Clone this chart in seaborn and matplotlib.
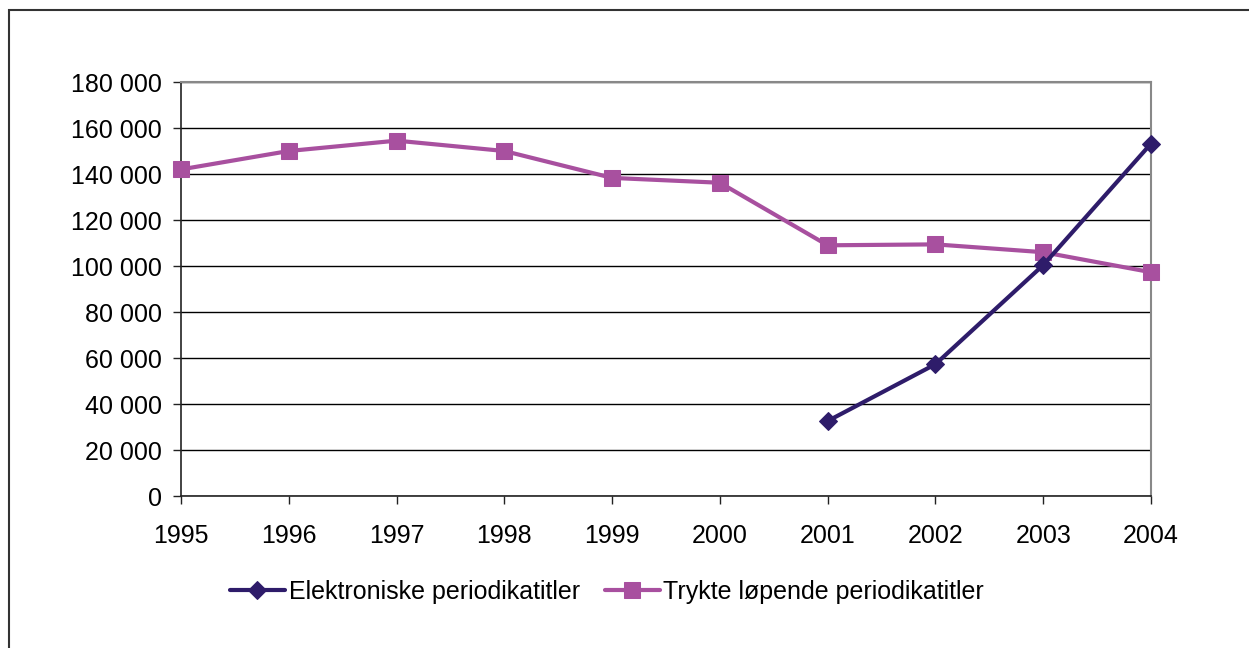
import matplotlib
matplotlib.use("Agg")
import matplotlib.pyplot as plt
import matplotlib.ticker as mticker
import pandas as pd
import seaborn as sns

# values
years = [1995, 1996, 1997, 1998, 1999, 2000, 2001, 2002, 2003, 2004]
trykte = [142000, 150000, 154500, 150000, 138300, 136200, 109000, 109400, 106000, 97300]
elektr_years = [2001, 2002, 2003, 2004]
elektr = [32600, 57300, 100400, 153200]

label_el = "Elektroniske periodikatitler"
label_tr = "Trykte løpende periodikatitler"

df_el = pd.DataFrame({"År": elektr_years, "Antall": elektr})
df_tr = pd.DataFrame({"År": years, "Antall": trykte})

sns.set_style("white")
plt.rcParams["font.family"] = ["Liberation Sans", "DejaVu Sans"]
plt.rcParams["text.color"] = "black"
plt.rcParams["xtick.color"] = "black"
plt.rcParams["ytick.color"] = "black"

fig = plt.figure(figsize=(12.49, 6.48), dpi=100)
ax = fig.add_axes([181 / 1249, 1 - 496 / 648, (1151 - 181) / 1249, (496 - 82) / 648])

# outer frame of the chart area
frame = plt.Rectangle((9 / 1249, -0.1), 1.2, 1 - 10 / 648 + 0.1, transform=fig.transFigure,
                      fill=False, edgecolor="#333333", linewidth=1.5, zorder=0)
fig.patches.append(frame)

sns.lineplot(data=df_el, x="År", y="Antall", ax=ax, color="#2E1C6A", linewidth=3,
             marker="D", markersize=9, markeredgecolor="#2E1C6A", label=label_el,
             zorder=4, clip_on=False)
sns.lineplot(data=df_tr, x="År", y="Antall", ax=ax, color="#A8509F", linewidth=3,
             marker="s", markersize=11, markeredgecolor="#A8509F", label=label_tr,
             zorder=3, clip_on=False)

ax.set_xlim(1995, 2004)
ax.set_ylim(0, 180000)
ax.set_xticks(years)
ax.set_yticks(range(0, 180001, 20000))
ax.yaxis.set_major_formatter(mticker.FuncFormatter(lambda v, p: f"{int(v):,}".replace(",", " ")))
ax.grid(axis="y", color="black", linewidth=1)
ax.set_axisbelow(True)
ax.set_xlabel("")
ax.set_ylabel("")

for side in ["left", "bottom"]:
    ax.spines[side].set_color("#222222")
    ax.spines[side].set_linewidth(1.2)
for side in ["top", "right"]:
    ax.spines[side].set_visible(True)
    ax.spines[side].set_color("#888888")
    ax.spines[side].set_linewidth(1.5)

ax.tick_params(axis="both", direction="out", length=6, width=1, color="#222222",
               labelsize=18, labelcolor="black", bottom=True, left=True)
ax.tick_params(axis="x", pad=14)
ax.tick_params(axis="y", pad=8)

ax.legend(loc="center", bbox_to_anchor=(607 / 1249, 1 - 592 / 648), bbox_transform=fig.transFigure,
          ncol=2, frameon=False, fontsize=18, handlelength=2.2, handletextpad=0.15,
          columnspacing=1.0, labelcolor="black")

fig.savefig("out.png", dpi=100)
